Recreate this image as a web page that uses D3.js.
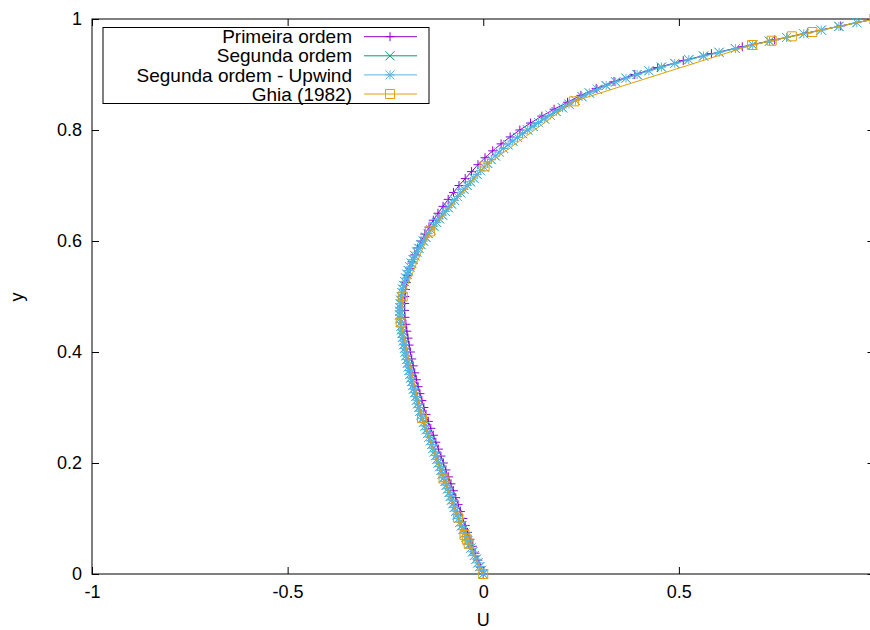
<!DOCTYPE html>
<html>
<head>
<meta charset="utf-8">
<script src="https://cdn.jsdelivr.net/npm/d3@7"></script>
<style>
  html, body { margin: 0; padding: 0; background: #fff; }
  svg { display: block; }
</style>
</head>
<body>
<svg id="chart" width="870" height="630"></svg>
<script>
// Centreline U velocity profile of the lid-driven cavity.

// First-order solution (81 nodes)
const yPrimeira = [
  0, 0.0125, 0.025, 0.0375, 0.05, 0.0625, 0.075, 0.0875, 0.1, 0.1125,
  0.125, 0.1375, 0.15, 0.1625, 0.175, 0.1875, 0.2, 0.2125, 0.225, 0.2375,
  0.25, 0.2625, 0.275, 0.2875, 0.3, 0.3125, 0.325, 0.3375, 0.35, 0.3625,
  0.375, 0.3875, 0.4, 0.4125, 0.425, 0.4375, 0.45, 0.4625, 0.475, 0.4875,
  0.5, 0.5125, 0.525, 0.5375, 0.55, 0.5625, 0.575, 0.5875, 0.6, 0.6125,
  0.625, 0.6375, 0.65, 0.6625, 0.675, 0.6875, 0.7, 0.7125, 0.725, 0.7375,
  0.75, 0.7625, 0.775, 0.7875, 0.8, 0.8125, 0.825, 0.8375, 0.85, 0.8625,
  0.875, 0.8875, 0.9, 0.9125, 0.925, 0.9375, 0.95, 0.9625, 0.975, 0.9875,
  1
];
const uPrimeira = [
  0, -0.0070, -0.0140, -0.0210, -0.0280, -0.0340, -0.0402, -0.0462, -0.0524, -0.0584,
  -0.0643, -0.0703, -0.0762, -0.0826, -0.0890, -0.0955, -0.1019, -0.1083, -0.1147, -0.1212,
  -0.1276, -0.1340, -0.1404, -0.1464, -0.1518, -0.1569, -0.1618, -0.1665, -0.1709, -0.1751,
  -0.1791, -0.1828, -0.1863, -0.1895, -0.1925, -0.1953, -0.1978, -0.2003, -0.2010, -0.2010,
  -0.2004, -0.1987, -0.1961, -0.1923, -0.1875, -0.1819, -0.1753, -0.1677, -0.1590, -0.1493,
  -0.1387, -0.1276, -0.1157, -0.1028, -0.0896, -0.0760, -0.0620, -0.0461, -0.0299, -0.0135,
  0.0045, 0.0242, 0.0456, 0.0688, 0.0935, 0.1208, 0.1497, 0.1811, 0.2154, 0.2496,
  0.2886, 0.3343, 0.3872, 0.4458, 0.5112, 0.5832, 0.6620, 0.7449, 0.8283, 0.9137,
  1.0
];

// Second-order solutions (151 nodes)
const yMalha = [
  0, 0.0067, 0.0133, 0.02, 0.0267, 0.0333, 0.04, 0.0467, 0.0533, 0.06,
  0.0667, 0.0733, 0.08, 0.0867, 0.0933, 0.1, 0.1067, 0.1133, 0.12, 0.1267,
  0.1333, 0.14, 0.1467, 0.1533, 0.16, 0.1667, 0.1733, 0.18, 0.1867, 0.1933,
  0.2, 0.2067, 0.2133, 0.22, 0.2267, 0.2333, 0.24, 0.2467, 0.2533, 0.26,
  0.2667, 0.2733, 0.28, 0.2867, 0.2933, 0.3, 0.3067, 0.3133, 0.32, 0.3267,
  0.3333, 0.34, 0.3467, 0.3533, 0.36, 0.3667, 0.3733, 0.38, 0.3867, 0.3933,
  0.4, 0.4067, 0.4133, 0.42, 0.4267, 0.4333, 0.44, 0.4467, 0.4533, 0.46,
  0.4667, 0.4733, 0.48, 0.4867, 0.4933, 0.5, 0.5067, 0.5133, 0.52, 0.5267,
  0.5333, 0.54, 0.5467, 0.5533, 0.56, 0.5667, 0.5733, 0.58, 0.5867, 0.5933,
  0.6, 0.6067, 0.6133, 0.62, 0.6267, 0.6333, 0.64, 0.6467, 0.6533, 0.66,
  0.6667, 0.6733, 0.68, 0.6867, 0.6933, 0.7, 0.7067, 0.7133, 0.72, 0.7267,
  0.7333, 0.74, 0.7467, 0.7533, 0.76, 0.7667, 0.7733, 0.78, 0.7867, 0.7933,
  0.8, 0.8067, 0.8133, 0.82, 0.8267, 0.8333, 0.84, 0.8467, 0.8533, 0.86,
  0.8667, 0.8733, 0.88, 0.8867, 0.8933, 0.9, 0.9067, 0.9133, 0.92, 0.9267,
  0.9333, 0.94, 0.9467, 0.9533, 0.96, 0.9667, 0.9733, 0.98, 0.9867, 0.9933,
  1
];
const uSegunda = [
  0, -0.0045, -0.0091, -0.0136, -0.0181, -0.0227, -0.0272, -0.0317, -0.0360, -0.0399,
  -0.0438, -0.0477, -0.0516, -0.0555, -0.0594, -0.0634, -0.0669, -0.0703, -0.0738, -0.0772,
  -0.0806, -0.0840, -0.0875, -0.0909, -0.0943, -0.0977, -0.1012, -0.1046, -0.1080, -0.1115,
  -0.1149, -0.1183, -0.1217, -0.1252, -0.1286, -0.1320, -0.1354, -0.1389, -0.1423, -0.1457,
  -0.1491, -0.1526, -0.1560, -0.1590, -0.1619, -0.1648, -0.1675, -0.1702, -0.1729, -0.1755,
  -0.1780, -0.1804, -0.1828, -0.1851, -0.1873, -0.1895, -0.1916, -0.1936, -0.1955, -0.1974,
  -0.1993, -0.2010, -0.2027, -0.2043, -0.2059, -0.2074, -0.2088, -0.2101, -0.2114, -0.2126,
  -0.2135, -0.2133, -0.2128, -0.2119, -0.2108, -0.2094, -0.2077, -0.2057, -0.2035, -0.2009,
  -0.1980, -0.1948, -0.1914, -0.1876, -0.1835, -0.1792, -0.1745, -0.1696, -0.1644, -0.1588,
  -0.1530, -0.1469, -0.1405, -0.1335, -0.1264, -0.1191, -0.1119, -0.1044, -0.0969, -0.0892,
  -0.0815, -0.0736, -0.0656, -0.0575, -0.0493, -0.0410, -0.0326, -0.0241, -0.0155, -0.0067,
  0.0022, 0.0110, 0.0206, 0.0306, 0.0410, 0.0519, 0.0633, 0.0752, 0.0875, 0.1003,
  0.1135, 0.1272, 0.1414, 0.1560, 0.1710, 0.1866, 0.2026, 0.2190, 0.2355, 0.2523,
  0.2710, 0.2916, 0.3142, 0.3386, 0.3649, 0.3932, 0.4234, 0.4554, 0.4894, 0.5253,
  0.5631, 0.6028, 0.6445, 0.6887, 0.7317, 0.7752, 0.8192, 0.8639, 0.9090, 0.9547,
  1.0
];
const uUpwind = [
  0, -0.0045, -0.0091, -0.0136, -0.0181, -0.0227, -0.0272, -0.0317, -0.0360, -0.0399,
  -0.0438, -0.0477, -0.0516, -0.0555, -0.0594, -0.0634, -0.0669, -0.0703, -0.0738, -0.0772,
  -0.0806, -0.0840, -0.0875, -0.0909, -0.0943, -0.0977, -0.1012, -0.1046, -0.1080, -0.1115,
  -0.1149, -0.1183, -0.1217, -0.1252, -0.1286, -0.1320, -0.1354, -0.1389, -0.1423, -0.1457,
  -0.1491, -0.1526, -0.1560, -0.1590, -0.1619, -0.1648, -0.1675, -0.1702, -0.1729, -0.1755,
  -0.1780, -0.1804, -0.1828, -0.1851, -0.1873, -0.1895, -0.1916, -0.1936, -0.1955, -0.1974,
  -0.1993, -0.2010, -0.2027, -0.2043, -0.2059, -0.2074, -0.2088, -0.2101, -0.2114, -0.2126,
  -0.2135, -0.2133, -0.2128, -0.2119, -0.2108, -0.2094, -0.2077, -0.2057, -0.2035, -0.2009,
  -0.1980, -0.1948, -0.1914, -0.1876, -0.1835, -0.1792, -0.1745, -0.1696, -0.1644, -0.1588,
  -0.1530, -0.1469, -0.1405, -0.1335, -0.1264, -0.1191, -0.1119, -0.1044, -0.0969, -0.0892,
  -0.0815, -0.0736, -0.0656, -0.0575, -0.0493, -0.0410, -0.0326, -0.0241, -0.0155, -0.0067,
  0.0022, 0.0110, 0.0206, 0.0306, 0.0410, 0.0519, 0.0633, 0.0752, 0.0875, 0.1003,
  0.1135, 0.1272, 0.1414, 0.1560, 0.1710, 0.1866, 0.2026, 0.2190, 0.2355, 0.2523,
  0.2710, 0.2916, 0.3142, 0.3386, 0.3649, 0.3932, 0.4234, 0.4554, 0.4894, 0.5253,
  0.5631, 0.6028, 0.6445, 0.6887, 0.7317, 0.7752, 0.8192, 0.8639, 0.9090, 0.9547,
  1.0
];

// Ghia, Ghia & Shin (1982), Re = 100
const yGhia = [1.0000, 0.9766, 0.9688, 0.9609, 0.9531, 0.8516, 0.7344, 0.6172, 0.5000,
               0.4531, 0.2813, 0.1719, 0.1016, 0.0703, 0.0625, 0.0547, 0.0000];
const uGhia = [1.00000, 0.84123, 0.78871, 0.73722, 0.68717, 0.23151, 0.00332, -0.13641,
               -0.20581, -0.21090, -0.15662, -0.10150, -0.06434, -0.04775, -0.04192, -0.03717, 0.00000];

const seriesNames = ["Primeira ordem", "Segunda ordem", "Segunda ordem - Upwind", "Ghia (1982)"];
const seriesColors = ["#9400d3", "#009e73", "#56b4e9", "#e69f00"];
const seriesMarkers = ["plus", "cross", "star", "square"];

// the tick at x = 1 sits on the right edge of the canvas; its label falls outside
const xTicks = [-1, -0.5, 0, 0.5, 1];
const xTickLabels = ["-1", "-0.5", "0", "0.5", ""];
const yTicks = [0, 0.2, 0.4, 0.6, 0.8, 1];
const yTickLabels = ["0", "0.2", "0.4", "0.6", "0.8", "1"];

const FONT = "'Liberation Sans', Arial, Helvetica, sans-serif";
const FS = 18;
const KEY_FS = 19;

const svg = d3.select("#chart");
const plotLeft = 92, plotRight = 874.5, plotTop = 19, plotBottom = 574;

const x = d3.scaleLinear().domain([-1, 1]).range([plotLeft, plotRight]);
const y = d3.scaleLinear().domain([0, 1]).range([plotBottom, plotTop]);

function styleAxis(g) {
  g.select(".domain").remove();
  g.selectAll(".tick line").attr("stroke", "#000").attr("stroke-width", 1);
  g.selectAll(".tick text").attr("fill", "#000").attr("font-family", FONT).attr("font-size", FS);
}

// axes, ticks pointing inward, mirrored on top/right
svg.append("g").attr("transform", `translate(0,${plotBottom})`)
  .call(d3.axisBottom(x).tickValues(xTicks).tickFormat((d, i) => xTickLabels[i]).tickSize(-7).tickPadding(11))
  .call(styleAxis);
svg.append("g").attr("transform", `translate(0,${plotTop})`)
  .call(d3.axisTop(x).tickValues(xTicks).tickFormat("").tickSize(-7))
  .call(styleAxis);
svg.append("g").attr("transform", `translate(${plotLeft},0)`)
  .call(d3.axisLeft(y).tickValues(yTicks).tickFormat((d, i) => yTickLabels[i]).tickSize(-7).tickPadding(10))
  .call(styleAxis);
svg.append("g").attr("transform", `translate(${plotRight},0)`)
  .call(d3.axisRight(y).tickValues(yTicks).tickFormat("").tickSize(-7))
  .call(styleAxis);

// frame
svg.append("rect")
  .attr("x", plotLeft).attr("y", plotTop)
  .attr("width", plotRight - plotLeft).attr("height", plotBottom - plotTop)
  .attr("fill", "none").attr("stroke", "#000").attr("stroke-width", 1);

// axis titles
svg.append("text").text("U")
  .attr("x", x(0)).attr("y", 626)
  .attr("text-anchor", "middle")
  .attr("font-family", FONT).attr("font-size", FS).attr("fill", "#000");
svg.append("text").text("y")
  .attr("transform", "translate(23,297) rotate(-90)")
  .attr("text-anchor", "middle")
  .attr("font-family", FONT).attr("font-size", FS).attr("fill", "#000");

// marker shapes
const H = 4.5;
const markerPath = {
  plus:   `M${-H},0H${H}M0,${-H}V${H}`,
  cross:  `M${-H},${-H}L${H},${H}M${-H},${H}L${H},${-H}`,
  star:   `M${-H},0H${H}M0,${-H}V${H}M${-H},${-H}L${H},${H}M${-H},${H}L${H},${-H}`,
  square: `M${-H},${-H}H${H}V${H}H${-H}Z`
};

const seriesData = [
  d3.zip(uPrimeira, yPrimeira),
  d3.zip(uSegunda, yMalha),
  d3.zip(uUpwind, yMalha),
  d3.zip(uGhia, yGhia)
];

const line = d3.line().x(d => x(d[0])).y(d => y(d[1]));
const plot = svg.append("g");

seriesData.forEach((data, k) => {
  const g = plot.append("g");
  g.append("path")
    .attr("d", line(data))
    .attr("fill", "none")
    .attr("stroke", seriesColors[k])
    .attr("stroke-width", 1);
  g.selectAll("path.pt").data(data).join("path")
    .attr("class", "pt")
    .attr("transform", d => `translate(${x(d[0])},${y(d[1])})`)
    .attr("d", markerPath[seriesMarkers[k]])
    .attr("fill", "none")
    .attr("stroke", seriesColors[k])
    .attr("stroke-width", 1);
});

// key
const key = svg.append("g");
key.append("rect")
  .attr("x", 103).attr("y", 27.5).attr("width", 326).attr("height", 76)
  .attr("fill", "#fff").attr("stroke", "#000").attr("stroke-width", 1);
seriesNames.forEach((name, k) => {
  const cy = 36.7 + k * 19.1;
  key.append("text").text(name)
    .attr("x", 352).attr("y", cy).attr("dy", "0.35em")
    .attr("text-anchor", "end")
    .attr("font-family", FONT).attr("font-size", KEY_FS).attr("fill", "#000");
  key.append("line")
    .attr("x1", 364).attr("x2", 417).attr("y1", cy).attr("y2", cy)
    .attr("stroke", seriesColors[k]).attr("stroke-width", 1);
  key.append("path")
    .attr("transform", `translate(390,${cy})`)
    .attr("d", markerPath[seriesMarkers[k]])
    .attr("fill", "none").attr("stroke", seriesColors[k]).attr("stroke-width", 1);
});
</script>
</body>
</html>
